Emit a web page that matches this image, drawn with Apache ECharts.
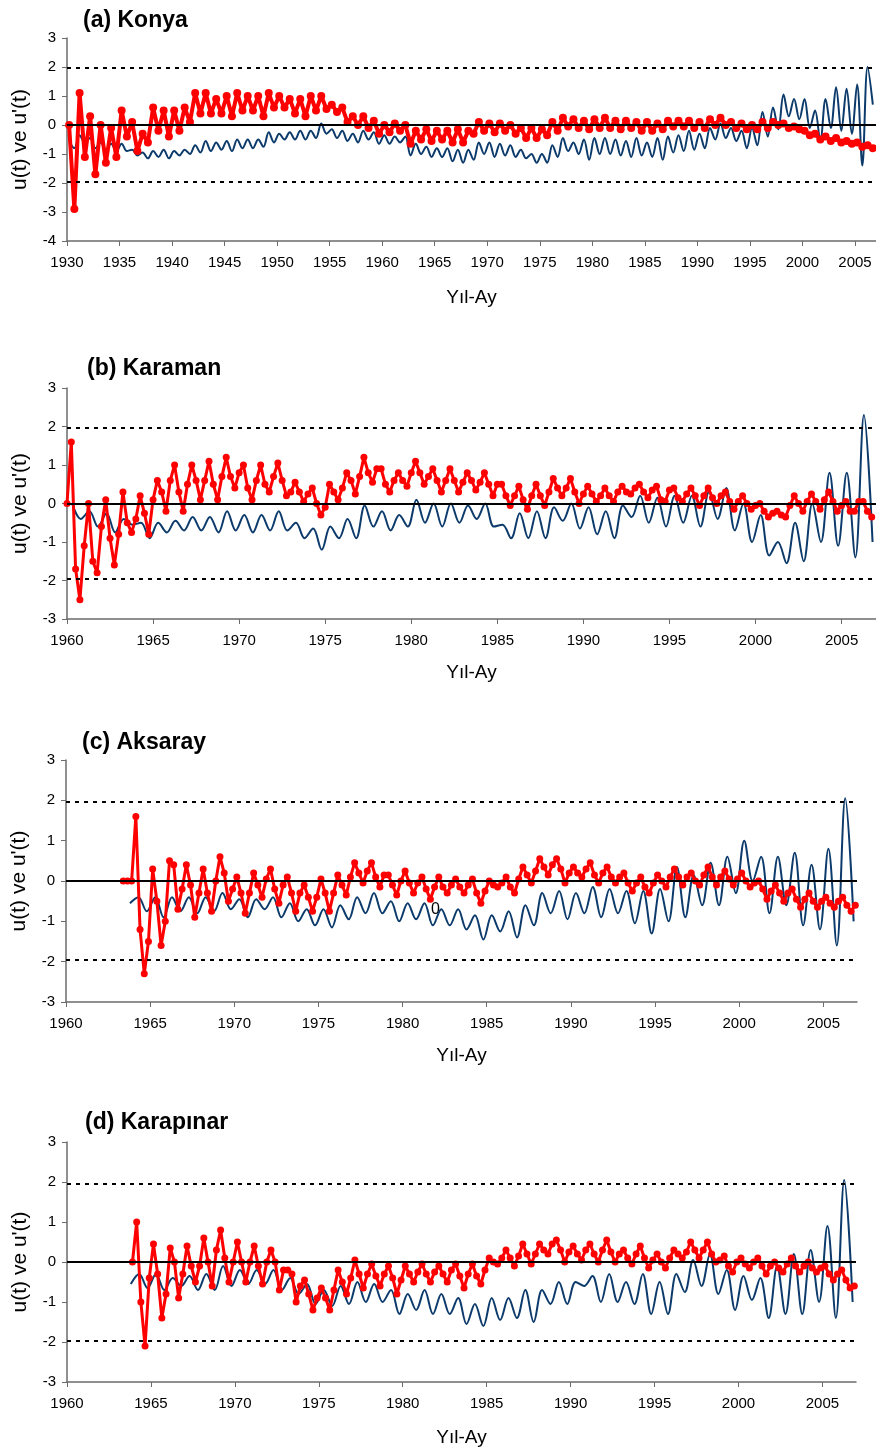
<!DOCTYPE html>
<html>
<head>
<meta charset="utf-8">
<script src="https://cdn.jsdelivr.net/npm/echarts@6/dist/echarts.min.js"></script>
<style>
  html, body { margin: 0; padding: 0; background: #fff; }
  #chart { width: 876px; height: 1452px; }
</style>
</head>
<body>
<div id="chart"></div>
<script>
// Mann-Kendall dizisel test: u(t) ileri (kırmızı), u'(t) geri (lacivert)
var critical = 1.96;
var ticks1930 = [1930, 1935, 1940, 1945, 1950, 1955, 1960, 1965, 1970, 1975, 1980, 1985, 1990, 1995, 2000, 2005];
var ticks1960 = [1960, 1965, 1970, 1975, 1980, 1985, 1990, 1995, 2000, 2005];

// (a) Konya - 1930.2'den itibaren yarım yıl arayla
var konyaForward = [
  0, -2.9,   1.1, -1.1,   0.3, -1.7,   0.0, -1.3,   -0.1, -1.1,   0.5, -0.4,   0.1, -0.9,   -0.3, -0.6,   0.6, -0.2,   0.5, -0.4,
  0.5, -0.2,   0.6, 0.1,   1.1, 0.4,   1.1, 0.4,   0.9, 0.4,   1.0, 0.3,   1.1, 0.5,   1.0, 0.5,   1.0, 0.3,   1.1, 0.6,
  1.0, 0.6,   0.9, 0.4,   0.9, 0.3,   1.0, 0.5,   1.0, 0.55,   0.7, 0.45,   0.6, 0.1,   0.3, 0.0,   0.3, -0.1,   0.15, -0.3,
  0.0, -0.25,   0.05, -0.2,   0.0, -0.65,   -0.2, -0.5,   -0.15, -0.55,   -0.2, -0.5,   -0.2, -0.6,   -0.15, -0.6,   -0.2, -0.3,   0.1, -0.2,
  0.05, -0.25,   0.05, -0.2,   0.0, -0.3,   -0.1, -0.45,   -0.1, -0.45,   -0.15, -0.35,   0.1, -0.2,   0.25, -0.05,   0.2, -0.1,   0.15, -0.15,
  0.2, -0.1,   0.25, -0.1,   0.15, -0.15,   0.15, -0.1,   0.1, -0.2,   0.1, -0.2,   0.05, -0.15,   0.15, -0.05,   0.15, -0.05,   0.15, -0.1,
  0.1, -0.1,   0.2, 0.0,   0.25, 0.0,   0.1, -0.1,   0.05, -0.15,   0.0, -0.15,   0.1, -0.1,   0.1, 0.0,   0.05, -0.1,   -0.05, -0.15,
  -0.2, -0.35,   -0.3, -0.5,   -0.4, -0.55,   -0.45, -0.6,   -0.55, -0.65,   -0.6, -0.75,   -0.7, -0.8
];
var konyaBackward = [
  -0.55, -0.8,   -0.35, -0.6,   -0.45, -0.8,   -0.6, -0.85,   -0.65, -0.9,   -0.65, -0.9,   -0.85, -1.05,   -0.95, -1.15,   -0.9, -1.1,   -0.85, -1.15,
  -0.9, -1.05,   -0.85, -1.0,   -0.7, -0.95,   -0.55, -0.9,   -0.6, -0.85,   -0.55, -0.9,   -0.5, -0.8,   -0.5, -0.8,   -0.5, -0.75,   -0.25, -0.6,
  -0.3, -0.5,   -0.25, -0.5,   -0.2, -0.5,   -0.2, -0.45,   0.05, -0.3,   -0.15, -0.45,   -0.2, -0.55,   -0.3, -0.6,   -0.2, -0.5,   -0.25, -0.65,
  -0.35, -0.65,   -0.4, -0.6,   -0.4, -1.05,   -0.65, -1.0,   -0.75, -1.1,   -0.8, -1.1,   -0.8, -1.25,   -0.85, -1.3,   -0.85, -1.2,   -0.6, -1.0,
  -0.6, -1.1,   -0.65, -1.05,   -0.7, -1.1,   -0.85, -1.15,   -1.0, -1.3,   -1.0, -1.3,   -0.7, -1.1,   -0.45, -0.9,   -0.6, -1.0,   -0.5, -1.2,
  -0.45, -1.0,   -0.45, -1.0,   -0.5, -1.05,   -0.55, -1.1,   -0.45, -1.05,   -0.6, -1.1,   -0.45, -1.2,   -0.4, -0.95,   -0.35, -0.9,   -0.2, -0.85,
  -0.3, -0.8,   -0.1, -0.5,   0.05, -0.45,   -0.1, -0.55,   -0.2, -0.8,   -0.1, -0.7,   0.45, -0.4,   0.6, -0.15,   1.05, 0.3,   0.9, 0.2,
  0.9, -0.1,   0.5, -0.55,   0.9, -0.1,   1.3, -0.2,   1.25, -0.3,   1.4, -1.4,   2.0, 0.7
];

// (b) Karaman - u(t) 1960.0'dan çeyrek yıl arayla, u'(t) 1960.3'ten yarım yıl arayla
var karamanForward = [
  0, 1.6, -1.7, -2.5,   -1.1, 0.0, -1.5, -1.8,   -0.6, 0.1, -0.9, -1.6,   -0.8, 0.3, -0.5, -0.75,   -0.4, 0.2, -0.25, -0.8,
  0.1, 0.6, 0.3, -0.2,   0.6, 1.0, 0.3, -0.2,   0.5, 1.0, 0.6, 0.1,   0.6, 1.1, 0.5, 0.1,   0.7, 1.2, 0.7, 0.4,
  0.8, 1.0, 0.4, 0.1,   0.6, 1.0, 0.5, 0.3,   0.7, 1.05, 0.6, 0.2,   0.3, 0.55, 0.3, 0.05,   0.25, 0.4, 0.0, -0.3,
  -0.1, 0.5, 0.3, 0.1,   0.4, 0.8, 0.6, 0.25,   0.7, 1.2, 0.8, 0.55,   0.9, 0.9, 0.5, 0.3,   0.6, 0.8, 0.6, 0.45,
  0.8, 1.1, 0.8, 0.5,   0.7, 0.9, 0.6, 0.3,   0.6, 0.9, 0.6, 0.3,   0.55, 0.8, 0.6, 0.35,   0.55, 0.8, 0.5, 0.2,
  0.5, 0.5, 0.2, -0.05,   0.2, 0.45, 0.1, -0.15,   0.2, 0.5, 0.2, -0.05,   0.3, 0.65, 0.4, 0.2,   0.4, 0.65, 0.3, 0.0,
  0.25, 0.45, 0.25, 0.05,   0.2, 0.4, 0.2, 0.05,   0.3, 0.45, 0.3, 0.25,   0.4, 0.5, 0.3, 0.15,   0.35, 0.45, 0.1, 0.05,
  0.35, 0.4, 0.15, 0.05,   0.25, 0.4, 0.2, -0.05,   0.2, 0.4, 0.15, 0.0,   0.2, 0.3, 0.05, -0.15,   0.05, 0.2, 0.0, -0.15,
  -0.05, 0.0, -0.2, -0.35,   -0.25, -0.2, -0.3, -0.35,   -0.05, 0.2, 0.0, -0.2,   0.05, 0.25, 0.05, -0.15,   0.1, 0.3, 0.05, -0.2,
  -0.05, 0.05, -0.2, -0.2,   0.05, 0.05, -0.2, -0.35
];
var karamanBackward = [
  0.0, -0.4,   -0.2, -0.6,   -0.25, -0.75,   -0.4, -0.55,   -0.5, -0.9,   -0.5, -0.75,   -0.45, -0.7,   -0.35, -0.7,   -0.35, -0.75,   -0.2, -0.7,
  -0.3, -0.75,   -0.3, -0.7,   -0.2, -0.7,   -0.5, -0.9,   -0.65, -1.2,   -0.6, -0.9,   -0.4, -0.9,   -0.05, -0.6,   -0.2, -0.7,   -0.3, -0.6,
  0.1, -0.5,   0.0, -0.6,   0.0, -0.5,   -0.05, -0.4,   0.0, -0.6,   -0.55, -0.9,   -0.25, -0.9,   -0.2, -0.9,   -0.1, -0.45,   0.0, -0.65,
  -0.1, -0.8,   -0.2, -0.9,   -0.05, -0.35,   0.2, -0.5,   0.15, -0.6,   0.2, -0.5,   0.2, -0.6,   0.3, -0.4,   0.4, -0.7,   0.0, -1.0,
  -0.3, -1.35,   -1.0, -1.55,   -0.5, -1.5,   0.0, -1.0,   0.8, -1.1,   0.8, -1.4,   2.3, -1.0
];

// (c) Aksaray - u(t) 1963.4'ten çeyrek yıl arayla, u'(t) 1963.8'den yarım yıl arayla
var aksarayForward = [
  0, 0, 0,
  1.6, -1.2, -2.3, -1.5,   0.3, -0.5, -1.6, -1.0,   0.5, 0.4, -0.7, -0.2,   0.4, -0.1, -0.9, -0.3,   0.3, -0.3, -0.75, 0.0,
  0.6, 0.2, -0.5, -0.2,   0.1, -0.3, -0.8, -0.3,   0.2, -0.1, -0.4, 0.05,   0.3, -0.2, -0.55, -0.1,   0.1, -0.3, -0.75, -0.3,
  -0.1, -0.4, -0.75, -0.4,   0.05, -0.3, -0.75, -0.3,   0.15, -0.1, -0.35, 0.1,   0.45, 0.2, -0.05, 0.25,   0.45, 0.1, -0.15, 0.15,
  0.15, -0.1, -0.35, 0.0,   0.25, -0.05, -0.3, -0.05,   0.1, -0.2, -0.45, -0.15,   0.1, -0.15, -0.3, -0.1,   0.05, -0.15, -0.3, -0.1,
  0.05, -0.3, -0.55, -0.25,   0.0, -0.1, -0.15, -0.05,   0.1, -0.15, -0.3, 0.05,   0.35, 0.15, -0.05, 0.25,   0.55, 0.35, 0.15, 0.4,
  0.55, 0.3, -0.05, 0.2,   0.35, 0.2, 0.1, 0.3,   0.45, 0.15, -0.05, 0.2,   0.35, 0.1, -0.05, 0.1,   0.2, -0.05, -0.25, -0.05,
  0.1, -0.15, -0.3, -0.05,   0.15, 0.0, -0.15, 0.1,   0.3, 0.1, -0.1, 0.1,   0.2, 0.0, -0.1, 0.15,   0.35, 0.1, -0.1, 0.1,
  0.25, 0.05, -0.1, 0.05,   0.2, 0.0, -0.15, -0.05,   0.0, -0.2, -0.45, -0.25,   -0.1, -0.3, -0.5, -0.3,   -0.2, -0.45, -0.65, -0.45,
  -0.3, -0.5, -0.65, -0.5,   -0.4, -0.55, -0.65, -0.5,   -0.4, -0.6, -0.75, -0.6
];
var aksarayBackward = [
  -0.55,
  -0.4, -0.75,   -0.4, -0.9,   -0.4, -0.75,   -0.4, -0.8,   -0.4, -0.75,   -0.3, -0.7,   -0.45, -0.9,   -0.45, -0.7,   -0.4, -0.9,   -0.55, -1.0,
  -0.7, -1.1,   -0.7, -1.15,   -0.6, -0.95,   -0.4, -0.8,   -0.3, -0.8,   -0.5, -1.0,   -0.55, -0.95,   -0.55, -1.1,   -0.7, -1.1,   -0.7, -1.2,
  -0.85, -1.45,   -0.85, -1.25,   -0.75, -1.4,   -0.6, -1.1,   -0.3, -0.8,   -0.25, -0.95,   -0.3, -0.8,   -0.15, -0.9,   -0.2, -0.8,   -0.25, -1.05,
  -0.25, -1.3,   -0.2, -1.0,   0.35, -0.9,   0.15, -0.6,   0.45, -0.6,   0.6, -0.3,   1.0, 0.0,   0.6, -0.8,   0.6, -0.6,   0.7, -1.1,
  0.4, -1.2,   0.8, -1.6,   2.05, -1.0
];

// (d) Karapınar - u(t) 1963.9'dan çeyrek yıl arayla, u'(t) 1963.8'den yarım yıl arayla
var karapinarForward = [
  0,
  1.0, -1.0, -2.1, -0.4,   0.45, -0.3, -1.4, -0.8,   0.35, 0.0, -0.9, -0.3,   0.4, -0.1, -0.5, -0.1,   0.6, 0.0, -0.6, 0.3,
  0.8, 0.1, -0.5, 0.0,   0.5, 0.0, -0.5, 0.0,   0.4, -0.1, -0.55, 0.0,   0.3, 0.0, -0.7, -0.2,   -0.2, -0.3, -1.0, -0.6,
  -0.45, -0.8, -1.2, -0.9,   -0.65, -0.9, -1.2, -0.7,   -0.2, -0.5, -0.8, -0.4,   0.05, -0.3, -0.65, -0.3,   -0.05, -0.35, -0.6, -0.3,
  -0.1, -0.4, -0.8, -0.45,   -0.1, -0.3, -0.5, -0.25,   -0.05, -0.3, -0.5, -0.25,   -0.1, -0.3, -0.5, -0.2,   -0.05, -0.35, -0.65, -0.3,
  -0.05, -0.35, -0.55, -0.2,   0.1, 0.0, -0.05, 0.1,   0.3, 0.1, -0.1, 0.15,   0.45, 0.2, -0.05, 0.2,   0.45, 0.3, 0.2, 0.45,
  0.55, 0.3, 0.0, 0.25,   0.4, 0.2, 0.05, 0.3,   0.45, 0.2, 0.0, 0.3,   0.55, 0.25, 0.0, 0.2,   0.3, 0.1, -0.05, 0.2,
  0.4, 0.1, -0.15, 0.05,   0.2, 0.0, -0.15, 0.1,   0.3, 0.2, 0.1, 0.25,   0.5, 0.3, 0.1, 0.3,   0.5, 0.2, 0.0, 0.05,
  0.15, -0.1, -0.25, 0.0,   0.1, -0.05, -0.15, 0.0,   0.1, -0.1, -0.3, -0.1,   0.0, -0.15, -0.25, -0.05,   0.1, -0.1, -0.25, -0.1,
  0.0, -0.15, -0.25, -0.15,   -0.1, -0.3, -0.45, -0.3,   -0.2, -0.45, -0.65, -0.6
];
var karapinarBackward = [
  -0.55,
  -0.3, -0.65,   -0.3, -0.7,   -0.4, -0.6,   -0.35, -0.7,   -0.3, -0.7,   -0.1, -0.6,   -0.2, -0.55,   -0.2, -0.55,   -0.2, -0.7,   -0.4, -0.8,
  -0.55, -1.05,   -0.7, -1.1,   -0.6, -1.05,   -0.5, -1.0,   -0.55, -1.0,   -0.7, -1.3,   -0.8, -1.2,   -0.7, -1.3,   -0.8, -1.3,   -0.9, -1.55,
  -1.05, -1.6,   -0.9, -1.45,   -0.9, -1.4,   -0.7, -1.5,   -0.7, -1.05,   -0.5, -1.05,   -0.5, -0.6,   -0.35, -1.0,   -0.3, -1.0,   -0.5, -1.05,
  -0.3, -1.3,   -0.5, -1.3,   -0.3, -0.75,   0.05, -0.6,   0.2, -0.8,   -0.2, -1.2,   -0.35, -0.95,   -0.4, -1.4,   -0.1, -1.3,   0.2, -1.3,
  0.3, -1.0,   0.9, -1.4,   2.05, -1.0
];

function toPoints(start, step, values) {
  return values.map(function (v, i) {
    return [Math.round((start + i * step) * 100) / 100, v];
  });
}

var panels = [
  { title: '(a) Konya', titleLeft: 78, titleTop: 4, grid: { left: 67, top: 38, width: 811, height: 203 }, nameGap: 47,
    xMin: 1930, xMax: 2007, xTicks: ticks1930, yMin: -4, yMax: 3,
    fwd: toPoints(1930.2, 0.5, konyaForward), bwd: toPoints(1930.2, 0.5, konyaBackward), sym: 8, redWidth: 4 },
  { title: '(b) Karaman', titleLeft: 82, titleTop: 352, grid: { left: 67, top: 388, width: 810, height: 231 }, nameGap: 44,
    xMin: 1960, xMax: 2007, xTicks: ticks1960, yMin: -3, yMax: 3,
    fwd: toPoints(1960.0, 0.25, karamanForward), bwd: toPoints(1960.3, 0.5, karamanBackward), sym: 7, redWidth: 3 },
  { title: '(c) Aksaray', titleLeft: 77, titleTop: 726, grid: { left: 66, top: 760, width: 791, height: 242 }, nameGap: 44,
    xMin: 1960, xMax: 2007, xTicks: ticks1960, yMin: -3, yMax: 3,
    fwd: toPoints(1963.4, 0.25, aksarayForward), bwd: toPoints(1963.8, 0.5, aksarayBackward), sym: 7, redWidth: 3 },
  { title: '(d) Karapınar', titleLeft: 80, titleTop: 1106, grid: { left: 67, top: 1142, width: 789, height: 240 }, nameGap: 46,
    xMin: 1960, xMax: 2007, xTicks: ticks1960, yMin: -3, yMax: 3,
    fwd: toPoints(1963.9, 0.25, karapinarForward), bwd: toPoints(1963.8, 0.5, karapinarBackward), sym: 7, redWidth: 3 }
];

var font = 'Liberation Sans, Arial, sans-serif';
var axisColor = '#6b6b6b';
var option = {
  animation: false,
  backgroundColor: '#fff',
  title: [], grid: [], xAxis: [], yAxis: [], series: [],
  graphic: [{
    type: 'text', left: 431, top: 902,
    style: { text: '0', fontSize: 16, fontFamily: font, fill: '#000' }
  }]
};

panels.forEach(function (p, i) {
  option.title.push({
    text: p.title, left: p.titleLeft, top: p.titleTop,
    textStyle: { fontSize: 23, fontWeight: 'bold', fontFamily: font, color: '#000' }
  });
  option.grid.push(p.grid);
  option.xAxis.push({
    type: 'value', gridIndex: i, min: p.xMin, max: p.xMax,
    name: 'Yıl-Ay', nameLocation: 'middle', nameGap: p.nameGap,
    nameTextStyle: { fontSize: 19, fontFamily: font, color: '#000' },
    axisLine: { onZero: false, lineStyle: { color: axisColor, width: 1.5 } },
    axisTick: { customValues: p.xTicks, length: 5, lineStyle: { color: axisColor } },
    axisLabel: {
      customValues: p.xTicks, margin: 14, fontSize: 15, fontFamily: font, color: '#000',
      formatter: function (v) { return String(v); }
    },
    splitLine: { show: false }
  });
  option.yAxis.push({
    type: 'value', gridIndex: i, min: p.yMin, max: p.yMax, interval: 1,
    name: "u(t) ve u'(t)", nameLocation: 'middle', nameGap: 36, nameRotate: 90,
    nameTextStyle: { fontSize: 21, fontFamily: font, color: '#000' },
    axisLine: { show: true, onZero: false, lineStyle: { color: axisColor, width: 1.5 } },
    axisTick: { show: true, length: 5, lineStyle: { color: axisColor } },
    axisLabel: { margin: 11, fontSize: 15, fontFamily: font, color: '#000' },
    splitLine: { show: false }
  });
  option.series.push({
    type: 'line', xAxisIndex: i, yAxisIndex: i, data: p.bwd,
    smooth: 0.35, showSymbol: false,
    lineStyle: { color: '#0b3a6b', width: 2 },
    markLine: {
      silent: true, symbol: 'none', label: { show: false },
      data: [
        { yAxis: 0, lineStyle: { color: '#000', type: 'solid', width: 2 } },
        { yAxis: critical, lineStyle: { color: '#000', type: [4, 5], width: 2 } },
        { yAxis: -critical, lineStyle: { color: '#000', type: [4, 5], width: 2 } }
      ]
    }
  });
  option.series.push({
    type: 'line', xAxisIndex: i, yAxisIndex: i, data: p.fwd,
    symbol: 'circle', symbolSize: p.sym, showAllSymbol: true,
    lineStyle: { color: '#ff0000', width: p.redWidth },
    itemStyle: { color: '#ff0000' }
  });
});

var chart = echarts.init(document.getElementById('chart'));
chart.setOption(option);
</script>
</body>
</html>
